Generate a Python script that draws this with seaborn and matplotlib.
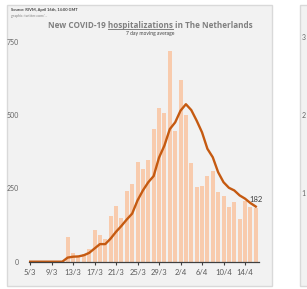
import numpy as np
import pandas as pd
import matplotlib
matplotlib.use("Agg")
import matplotlib.pyplot as plt
from matplotlib.patches import Rectangle
from matplotlib.lines import Line2D
import seaborn as sns

# ---- data ----
dates = ["5/3", "6/3", "7/3", "8/3", "9/3", "10/3", "11/3", "12/3", "13/3", "14/3",
         "15/3", "16/3", "17/3", "18/3", "19/3", "20/3", "21/3", "22/3", "23/3", "24/3",
         "25/3", "26/3", "27/3", "28/3", "29/3", "30/3", "31/3", "1/4", "2/4", "3/4",
         "4/4", "5/4", "6/4", "7/4", "8/4", "9/4", "10/4", "11/4", "12/4", "13/4",
         "14/4", "15/4", "16/4"]
new_hosp = [0, 0, 0, 0, 0, 0, 0, 85, 30, 19,
            25, 42, 107, 91, 79, 155, 191, 150, 240, 266,
            339, 316, 348, 451, 525, 506, 720, 445, 620, 501,
            336, 255, 258, 291, 308, 238, 224, 187, 204, 146,
            207, 187, 183]
moving_avg = [0, 0, 0, 0, 0, 0, 0, 14, 17, 18,
              22, 30, 45, 60, 60, 79, 102, 122, 144, 164,
              209, 243, 271, 292, 355, 396, 452, 475, 515, 537,
              517, 481, 441, 385, 356, 305, 271, 252, 243, 226,
              215, 200, 188]
tick_labels = ["5/3", "9/3", "13/3", "17/3", "21/3", "25/3", "29/3", "2/4", "6/4", "10/4", "14/4"]
y_ticks = [0, 250, 500, 750]
end_label = "182"
title_pre = "New COVID-19 "
title_mid = "hospitalizations"
title_post = " in The Netherlands"
subtitle = "7 day moving average"
source1 = "Source: RIVM, April 16th, 14:00 GMT"
source2 = "graphic: twitter.com/..."
side_labels = ["3", "2", "1"]

df = pd.DataFrame({"date": dates, "hosp": new_hosp, "avg": moving_avg})

BAR = "#f8cbad"
LINE = "#c55a11"
GRAY = "#808080"
FONT = ["Lato", "DejaVu Sans"]
TFONT = ["Open Sans", "DejaVu Sans"]
plt.rcParams["font.family"] = FONT

W, H = 307, 289
fig = plt.figure(figsize=(W / 100, H / 100), dpi=100)
fig.patch.set_facecolor("white")

def fx(px):
    return px / W

def fy(py):
    return 1 - py / H

# panels
fig.patches.append(Rectangle((fx(7), fy(286)), fx(272) - fx(7), fy(5) - fy(286),
                             transform=fig.transFigure, facecolor="#f2f2f2",
                             edgecolor="#d9d9d9", lw=1.0, zorder=-5))
fig.patches.append(Rectangle((fx(299.5), fy(286)), fx(320) - fx(299.5), fy(5) - fy(286),
                             transform=fig.transFigure, facecolor="#f2f2f2",
                             edgecolor="#d9d9d9", lw=1.0, zorder=-5))

# axes
x0, x1 = 28.7, 259.0
yb, yt = 261.7, 38.8
ax = fig.add_axes([fx(x0), fy(yb), fx(x1) - fx(x0), fy(yt) - fy(yb)])
ax.set_zorder(2)
ax.set_facecolor("none")

sns.barplot(data=df, x="date", y="hosp", color=BAR, width=0.75, ax=ax,
            saturation=1, zorder=2)
sns.lineplot(x=np.arange(len(df)), y=df["avg"], color=LINE, lw=1.7, ax=ax,
             zorder=3)

ax.set_xlim(-0.25, 42.6)
ax.set_ylim(0, 760)
ax.set_xlabel("")
ax.set_ylabel("")
for s in ["top", "right", "left"]:
    ax.spines[s].set_visible(False)
ax.spines["bottom"].set_color("#404040")
ax.spines["bottom"].set_linewidth(0.9)
ax.spines["bottom"].set_zorder(4)

ax.set_xticks([dates.index(t) for t in tick_labels])
ax.set_xticklabels(tick_labels)
ax.tick_params(axis="x", direction="out", length=2.5, width=0.8, color="#404040",
               labelsize=5.5, labelcolor="#595959", pad=3)
ax.set_yticks(y_ticks)
ax.set_yticklabels([str(v) for v in y_ticks])
ax.tick_params(axis="y", length=0, labelsize=5.0, labelcolor="#666666", pad=7)
ax.grid(False)

# end label
ax.annotate(end_label, (len(df) - 1, moving_avg[-1]), xytext=(0.5, 2.5),
            textcoords="offset points", ha="center", va="bottom",
            fontsize=5.5, color="#404040", zorder=5)

# title with underlined middle word
TS = 5.9
tx, ty = 150, 25
full = title_pre + title_mid + title_post
title = fig.text(fx(tx), fy(ty), full, ha="center", va="center", fontsize=TS,
                 fontweight="bold", color=GRAY, family=TFONT)
fig.canvas.draw()
r = fig.canvas.get_renderer()
bb = title.get_window_extent(r)

def width(s):
    t = fig.text(0, 0, s, fontsize=TS, fontweight="bold", family=TFONT)
    w = t.get_window_extent(r).width
    t.remove()
    return w

start = bb.x0 + width(title_pre + "h") - width("h")
end = bb.x0 + width(title_pre + title_mid)
uy = bb.y0 + 0.3
fig.lines.append(Line2D([start / W, end / W], [uy / H, uy / H],
                        transform=fig.transFigure, color=GRAY, lw=0.7))

fig.text(fx(150), fy(33), subtitle, ha="center", va="center", fontsize=3.6,
         color="#404040")
fig.text(fx(11), fy(10.5), source1, ha="left", va="center", fontsize=2.9,
         color="#404040", fontweight="bold")
fig.text(fx(11), fy(15.5), source2, ha="left", va="center", fontsize=2.6,
         color="#808080")
for lab, py in zip(side_labels, [37, 115, 193]):
    fig.text(fx(301.5), fy(py), lab, ha="left", va="center", fontsize=5.0,
             color="#666666")

fig.savefig("out.png", dpi=100)
